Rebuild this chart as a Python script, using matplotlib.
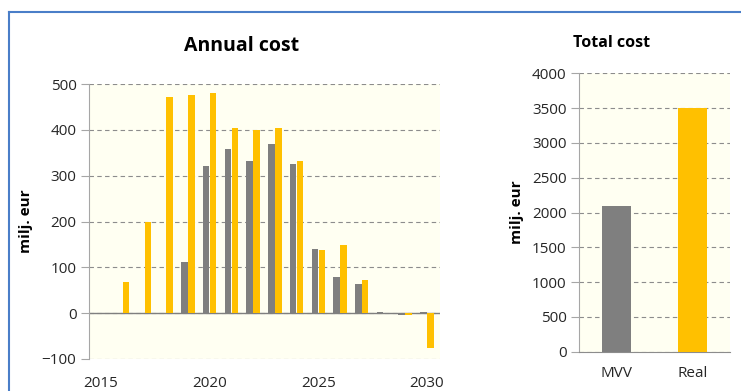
import matplotlib.pyplot as plt
from matplotlib.lines import Line2D
import numpy as np

plt.rcParams['font.family'] = ['Open Sans', 'DejaVu Sans']

years = [2016, 2017, 2018, 2019, 2020, 2021, 2022, 2023, 2024, 2025, 2026, 2027, 2028, 2029, 2030]
mvv_annual = [0, 0, 0, 111, 321, 358, 332, 370, 325, 141, 78, 63, 2, -3, 2]
real_annual = [69, 199, 471, 476, 481, 405, 399, 405, 332, 137, 148, 73, 0, -5, -77]

total_labels = ['MVV', 'Real']
total_values = [2100, 3500]

grey = '#7F7F7F'
gold = '#FFC000'
face = '#FFFFF2'
spine = '#A6A6A6'

fig = plt.figure(figsize=(7.41, 3.91), dpi=100)

# left panel
ax = fig.add_axes([89/741, 1-359/391, 351/741, 275/391])
x = np.array(years)
ax.bar(x - 0.16, mvv_annual, width=0.3, color=grey, zorder=3)
ax.bar(x + 0.16, real_annual, width=0.3, color=gold, zorder=3)
ax.set_xlim(2014.45, 2030.6)
ax.set_ylim(-100, 500)
ax.set_yticks(range(-100, 501, 100))
ax.set_xticks([2015, 2020, 2025, 2030])
ax.set_facecolor(face)
ax.grid(axis='y', linestyle=(0, (4, 3)), color='#8C8C8C', linewidth=0.8, zorder=1)
ax.axhline(0, color='#7F7F7F', linewidth=1.0, zorder=2)
for s in ['top', 'right', 'bottom']:
    ax.spines[s].set_visible(False)
ax.spines['left'].set_color(spine)
ax.tick_params(axis='y', length=6, color=spine, labelsize=11, pad=3, labelcolor='#262626')
ax.tick_params(axis='x', length=0, labelsize=11, pad=12, labelcolor='#262626')
ax.set_ylabel('milj. eur', fontsize=11, fontweight='bold', labelpad=6)
ax.set_title('Annual cost', fontsize=14, fontweight='bold', pad=24, x=(242-89)/351)

# right panel
ax2 = fig.add_axes([579/741, 1-351.7/391, 151/741, 278.4/391])
ax2.bar(range(len(total_labels)), total_values, width=0.39, color=[grey, gold], zorder=3)
ax2.set_xlim(-0.5, 1.5)
ax2.set_ylim(0, 4000)
ax2.set_yticks(range(0, 4001, 500))
ax2.set_xticks(range(len(total_labels)))
ax2.set_xticklabels(total_labels)
ax2.set_facecolor(face)
ax2.grid(axis='y', linestyle=(0, (4, 3)), color='#8C8C8C', linewidth=0.8, zorder=1)
for s in ['top', 'right']:
    ax2.spines[s].set_visible(False)
ax2.spines['left'].set_color(spine)
ax2.spines['bottom'].set_color('#8C8C8C')
ax2.tick_params(axis='y', length=6, color=spine, labelsize=11, pad=3, labelcolor='#262626')
ax2.tick_params(axis='x', length=0, labelsize=11, pad=10, labelcolor='#262626')
ax2.set_ylabel('milj. eur', fontsize=11, fontweight='bold', labelpad=6)
ax2.set_title('Total cost', fontsize=11.5, fontweight='bold', pad=19, x=(612-579)/151)

# blue frame around the chart
fig.add_artist(Line2D([9/741, 9/741], [0, 1-12/391], color='#4A7EC8', linewidth=1.5))
fig.add_artist(Line2D([9/741, 1], [1-12/391, 1-12/391], color='#4A7EC8', linewidth=1.5))

fig.savefig('out.png', dpi=100, facecolor='white')
